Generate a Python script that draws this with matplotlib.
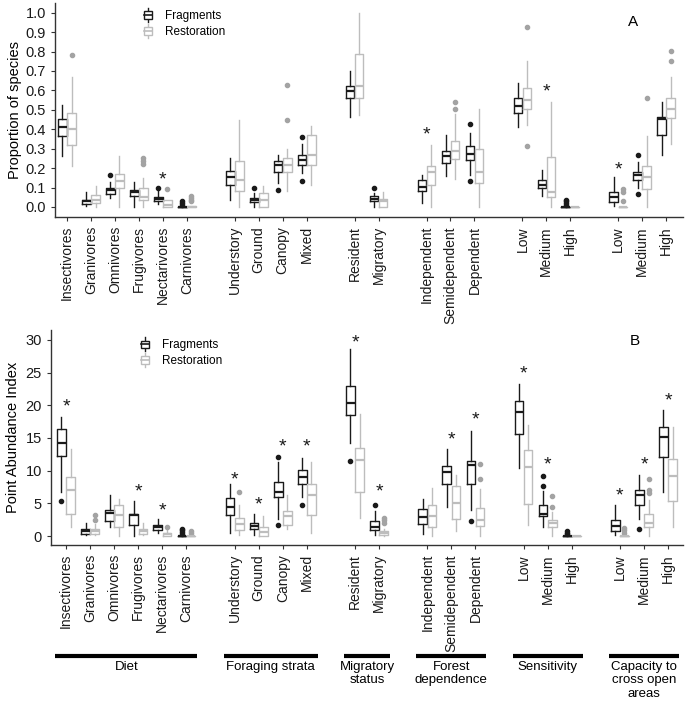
import matplotlib
matplotlib.use('Agg')
import matplotlib.pyplot as plt
from matplotlib.lines import Line2D
from matplotlib.patches import Rectangle
from matplotlib.legend_handler import HandlerBase
import matplotlib.transforms as mtransforms

plt.rcParams['font.family'] = ['Liberation Sans', 'DejaVu Sans']

# categories
GROUPS = ["Diet", "Foraging strata", "Migratory\nstatus", "Forest\ndependence",
          "Sensitivity", "Capacity to\ncross open\nareas"]
GROUP_CATS = [
    ["Insectivores", "Granivores", "Omnivores", "Frugivores", "Nectarivores", "Carnivores"],
    ["Understory", "Ground", "Canopy", "Mixed"],
    ["Resident", "Migratory"],
    ["Independent", "Semidependent", "Dependent"],
    ["Low", "Medium", "High"],
    ["Low", "Medium", "High"],
]

# panel A: proportion of species  (whislo, q1, median, q3, whishi)
A_FRAG = [(0.26, 0.363, 0.414, 0.454, 0.526), (0.003, 0.017, 0.029, 0.038, 0.075),
          (0.046, 0.068, 0.086, 0.098, 0.13), (0.0, 0.055, 0.077, 0.089, 0.13),
          (0.017, 0.029, 0.041, 0.051, 0.08), (0, 0, 0, 0, 0),
          (0.034, 0.115, 0.154, 0.187, 0.252), (0, 0.024, 0.038, 0.046, 0.072),
          (0.123, 0.18, 0.214, 0.235, 0.269), (0.175, 0.217, 0.24, 0.269, 0.325),
          (0.462, 0.56, 0.599, 0.623, 0.702), (0, 0.029, 0.043, 0.055, 0.072),
          (0.02, 0.08, 0.103, 0.14, 0.166), (0.158, 0.226, 0.26, 0.289, 0.368),
          (0.166, 0.243, 0.272, 0.315, 0.38), (0.414, 0.486, 0.52, 0.56, 0.637),
          (0.058, 0.098, 0.115, 0.137, 0.188), (0, 0, 0, 0, 0),
          (0.003, 0.024, 0.051, 0.077, 0.152), (0.098, 0.14, 0.163, 0.18, 0.231),
          (0.269, 0.372, 0.454, 0.462, 0.539)]
A_FRAG_OUT = [[], [], [0.166], [], [0.10], [0.01, 0.02, 0.029], [], [0.098], [0.089],
              [0.358, 0.135], [], [0.098], [], [], [0.428, 0.132], [], [],
              [0.01, 0.02, 0.03, 0.038], [], [0.269, 0.067], []]
A_REST = [(0.209, 0.32, 0.40, 0.483, 0.668), (0, 0.02, 0.038, 0.06, 0.106),
          (0, 0.098, 0.132, 0.171, 0.264), (0, 0.034, 0.051, 0.098, 0.15),
          (0, 0, 0.012, 0.034, 0.038), (0, 0, 0, 0.005, 0.005),
          (0, 0.084, 0.14, 0.235, 0.449), (0, 0, 0.038, 0.072, 0.11),
          (0.08, 0.178, 0.214, 0.252, 0.298), (0.115, 0.217, 0.269, 0.372, 0.418),
          (0.474, 0.56, 0.623, 0.788, 1.0), (0, 0, 0.029, 0.043, 0.075),
          (0, 0.115, 0.178, 0.209, 0.317), (0.144, 0.248, 0.286, 0.342, 0.478),
          (0, 0.123, 0.18, 0.298, 0.503), (0.423, 0.503, 0.551, 0.611, 0.753),
          (0, 0.05, 0.075, 0.257, 0.539), (0, 0, 0, 0, 0),
          (0, 0, 0, 0, 0), (0, 0.092, 0.154, 0.209, 0.366),
          (0.325, 0.457, 0.503, 0.56, 0.668)]
A_REST_OUT = [[0.78], [], [], [0.25, 0.235, 0.222], [0.094], [0.029, 0.038, 0.046, 0.055],
              [], [], [0.628, 0.449], [], [], [], [], [0.539, 0.505], [], [0.925, 0.312],
              [], [], [0.094, 0.077, 0.029], [0.56], [0.805, 0.753]]
A_STAR_IDX = [4, 12, 16, 18]
A_STAR_Y = [0.175, 0.406, 0.628, 0.226]

# panel B: point abundance index
B_FRAG = [(6.7, 12.3, 14.3, 16.4, 18.25), (0.1, 0.36, 0.7, 1.0, 2.0),
          (1.37, 2.3, 3.5, 4.0, 6.35), (0, 1.63, 3.2, 3.4, 5.3),
          (0.46, 0.97, 1.37, 1.73, 2.54), (0, 0, 0, 0, 0),
          (0.46, 3.25, 4.4, 5.8, 8.0), (0.1, 1.0, 1.5, 2.0, 3.3),
          (2.64, 5.95, 6.7, 8.3, 11.3), (5.95, 8.0, 9.1, 10.1, 11.95),
          (14.3, 18.5, 20.3, 23.0, 28.6), (0.1, 0.97, 1.37, 2.3, 3.9),
          (0.36, 1.88, 2.9, 4.07, 5.7), (4.4, 7.9, 9.76, 10.7, 13.3),
          (4.0, 7.9, 10.8, 11.4, 16.0), (10.4, 15.6, 18.9, 20.7, 23.3),
          (1.37, 3.0, 3.4, 4.8, 6.9), (0, 0, 0, 0, 0),
          (0.2, 0.7, 1.47, 2.4, 4.7), (2.64, 4.7, 6.3, 7.1, 9.35),
          (6.7, 12.15, 15.2, 16.7, 19.3)]
B_FRAG_OUT = [[5.3], [], [], [], [], [0.36, 0.6, 0.86, 1.1], [], [], [12.05, 1.73], [4.8],
              [11.5], [4.8], [], [], [2.3], [], [9.15, 7.7], [0.25, 0.5, 0.76], [],
              [1.1], []]
B_REST = [(1.37, 3.4, 7.07, 9.1, 13.3), (0.1, 0.36, 0.7, 1.1, 1.9),
          (0, 1.37, 3.25, 4.8, 5.7), (0.1, 0.36, 0.7, 1.0, 2.0),
          (0, 0, 0.25, 0.5, 0.86), (0, 0, 0, 0, 0),
          (0.1, 0.97, 1.88, 2.75, 4.7), (0, 0, 0.6, 1.37, 3.0),
          (1.1, 1.63, 3.05, 3.76, 6.3), (0.5, 3.25, 6.3, 8.0, 11.3),
          (2.75, 6.7, 11.7, 13.5, 18.7), (0, 0.1, 0.5, 0.76, 1.1),
          (0, 1.37, 3.05, 4.8, 7.4), (0.7, 2.64, 5.0, 7.7, 9.35),
          (0, 1.5, 2.5, 4.3, 7.2), (1.73, 4.9, 10.5, 13.2, 17.0),
          (0, 1.37, 2.0, 2.4, 3.66), (0, 0, 0, 0, 0),
          (0, 0, 0, 0, 0), (0, 1.37, 2.0, 3.4, 5.5),
          (1.37, 5.3, 9.25, 11.8, 16.6)]
B_REST_OUT = [[], [3.15, 2.4], [], [], [1.37], [0.46, 0.7], [6.7], [], [], [], [], [2.0, 2.4, 2.75],
              [], [], [11.0, 8.7], [], [6.1, 4.4], [], [0.5, 0.86, 1.2], [8.7, 7.07, 6.6], []]
B_STAR_IDX = [0, 3, 4, 6, 7, 8, 9, 10, 11, 13, 14, 15, 16, 18, 19, 20]
B_STAR_Y = [20.7, 7.7, 4.8, 9.6, 5.7, 14.7, 14.7, 30.6, 7.7, 15.7, 18.8, 25.8, 11.8, 7.2, 11.8, 21.7]

FRAG_COL = '#1a1a1a'
REST_COL = '#bdbdbd'
REST_OUT_COL = '#a3a3a3'
AXIS_COL = '#333333'

# x positions with one empty slot between groups
positions, labels, group_span = [], [], []
s = 0
for cats in GROUP_CATS:
    positions.extend(range(s, s + len(cats)))
    labels.extend(cats)
    group_span.append((s, s + len(cats) - 1))
    s += len(cats) + 1


def make_stats(five, outs):
    stats = []
    for (lo, q1, med, q3, hi), fl in zip(five, outs):
        stats.append(dict(whislo=lo, q1=q1, med=med, q3=q3, whishi=hi, fliers=fl))
    return stats


class BoxHandler(HandlerBase):
    # small boxplot glyph for the legend keys
    def create_artists(self, legend, orig_handle, xdescent, ydescent, width, height,
                       fontsize, trans):
        c = orig_handle.get_color()
        cx = width / 2 - xdescent
        bw = width * 0.8
        y0 = -ydescent
        box = Rectangle((cx - bw / 2, y0 + height * 0.15), bw, height * 0.7,
                        facecolor='white', edgecolor=c, lw=1.0, transform=trans)
        w1 = Line2D([cx, cx], [y0 - height * 0.15, y0 + height * 0.15], color=c, lw=1.0, transform=trans)
        w2 = Line2D([cx, cx], [y0 + height * 0.85, y0 + height * 1.15], color=c, lw=1.0, transform=trans)
        med = Line2D([cx - bw / 2, cx + bw / 2], [y0 + height * 0.5] * 2, color=c, lw=1.2, transform=trans)
        return [w1, w2, box, med]


def draw_panel(ax, frag, frag_out, rest, rest_out, star_idx, star_y):
    off, w = 0.19, 0.36
    for stats, outs, col, ocol, sign in [(frag, frag_out, FRAG_COL, FRAG_COL, -1),
                                         (rest, rest_out, REST_COL, REST_OUT_COL, 1)]:
        ax.bxp(make_stats(stats, outs), positions=[p + sign * off for p in positions],
               widths=w, showcaps=False, manage_ticks=False,
               boxprops=dict(color=col, lw=1.0),
               whiskerprops=dict(color=col, lw=1.0),
               medianprops=dict(color=col, lw=1.6),
               flierprops=dict(marker='o', markerfacecolor=ocol, markeredgecolor=ocol,
                               markersize=3))
    for i, y in zip(star_idx, star_y):
        ax.annotate('*', (positions[i], y), xytext=(0, -8), textcoords='offset points',
                    ha='center', va='baseline', fontsize=14, color='#1a1a1a')
    for side in ['top', 'right']:
        ax.spines[side].set_visible(False)
    for side in ['left', 'bottom']:
        ax.spines[side].set_color(AXIS_COL)
        ax.spines[side].set_linewidth(1.0)
    ax.set_xticks(positions)
    ax.set_xticklabels(labels, rotation=90, fontsize=10)
    ax.tick_params(axis='both', colors=AXIS_COL, length=3, width=0.8, labelcolor='#1a1a1a')
    ax.tick_params(axis='y', labelsize=10.5)
    handles = [Line2D([], [], color=FRAG_COL), Line2D([], [], color=REST_COL)]
    return handles


fig = plt.figure(figsize=(6.85, 7.05), dpi=100)
W, H = 685, 705
leg_kw = dict(handler_map={Line2D: BoxHandler()}, loc='upper left', frameon=False,
              fontsize=8.5, handlelength=0.9, handleheight=1.0, handletextpad=1.0,
              labelspacing=0.3, borderpad=0, borderaxespad=0)

axA = fig.add_axes([55 / W, 1 - 217 / H, 628 / W, 214 / H])
hA = draw_panel(axA, A_FRAG, A_FRAG_OUT, A_REST, A_REST_OUT, A_STAR_IDX, A_STAR_Y)
axA.set_xlim(-0.5, 25.7)
axA.set_ylim(-0.0515, 1.05)
axA.set_yticks([i / 10 for i in range(11)])
axA.set_yticklabels([f'{i / 10:.1f}' for i in range(11)])
axA.set_ylabel('Proportion of species', fontsize=10.5)
axA.yaxis.set_label_coords(-0.053, 0.5)
axA.text(0.92, 0.91, 'A', transform=axA.transAxes, fontsize=11, ha='center', va='center')
axA.legend(hA, ['Fragments', 'Restoration'], bbox_to_anchor=(0.14, 0.968), **leg_kw)

axB = fig.add_axes([51 / W, 1 - 545 / H, 632 / W, 215 / H])
hB = draw_panel(axB, B_FRAG, B_FRAG_OUT, B_REST, B_REST_OUT, B_STAR_IDX, B_STAR_Y)
axB.set_xlim(-0.625, 25.62)
axB.set_ylim(-1.37, 31.5)
axB.set_yticks(range(0, 31, 5))
axB.set_ylabel('Point Abundance Index', fontsize=10.5)
axB.yaxis.set_label_coords(-0.049, 0.5)
axB.text(0.924, 0.949, 'B', transform=axB.transAxes, fontsize=11, ha='center', va='center')
axB.legend(hB, ['Fragments', 'Restoration'], bbox_to_anchor=(0.14, 0.958), **leg_kw)

# group bars and names under panel B
trans = mtransforms.blended_transform_factory(axB.transData, fig.transFigure)
for name, (a, b) in zip(GROUPS, group_span):
    axB.plot([a - 0.45, b + 0.45], [1 - 656 / H] * 2, color='black', lw=3,
             transform=trans, clip_on=False, solid_capstyle='butt')
    axB.text((a + b) / 2, 1 - 661 / H, name, transform=trans, ha='center', va='top',
             fontsize=9.5, linespacing=1.15)

fig.savefig('out.png', dpi=100)
